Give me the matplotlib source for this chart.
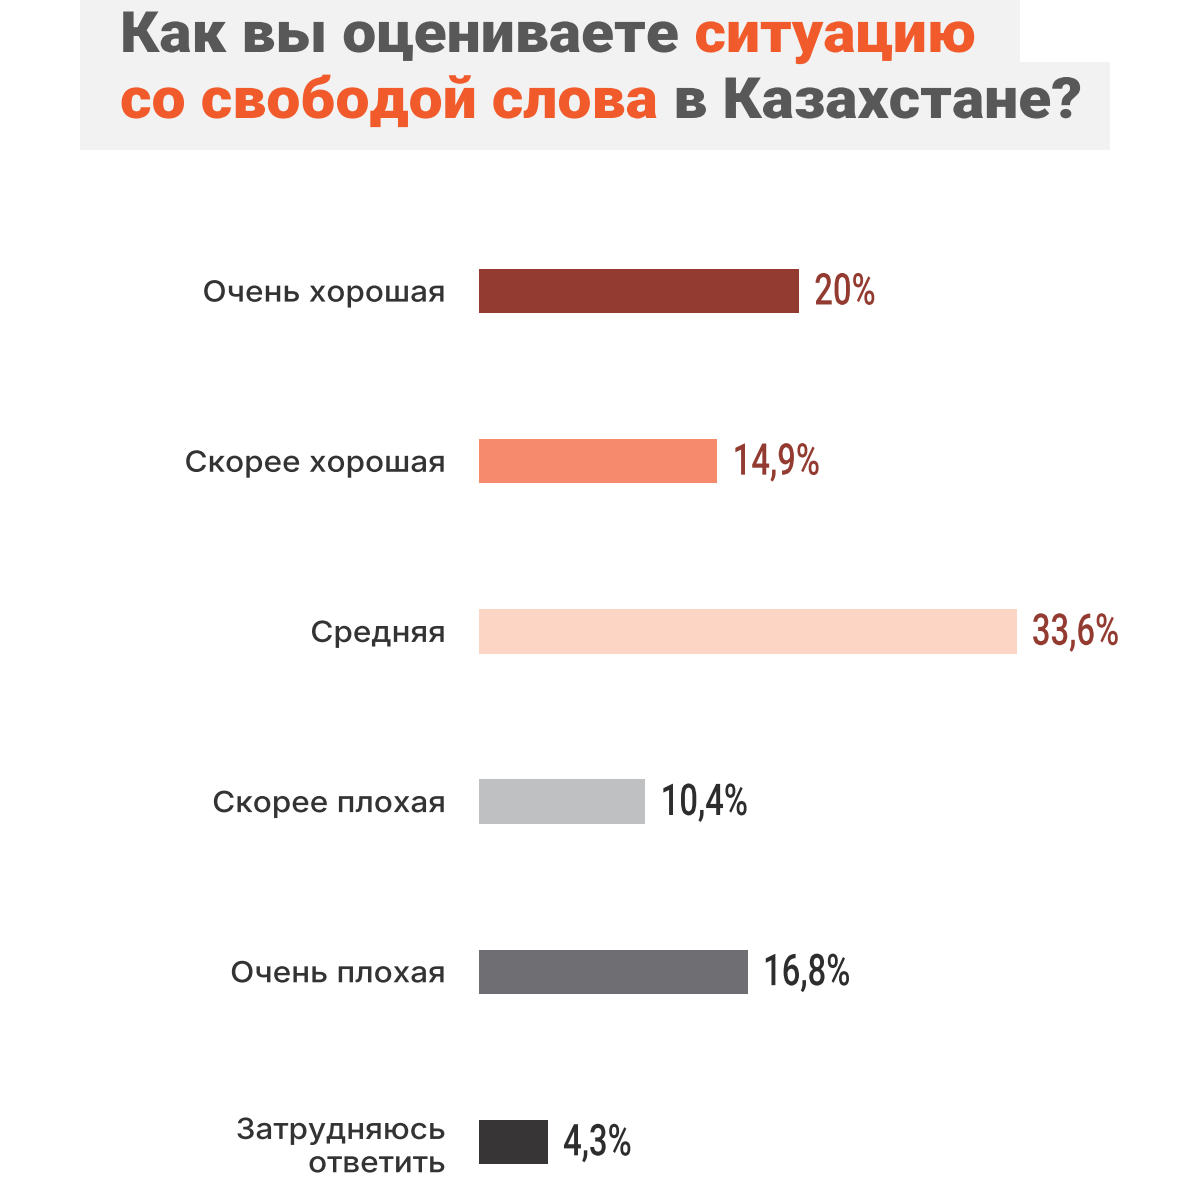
import matplotlib
matplotlib.use("Agg")
import matplotlib.pyplot as plt
from matplotlib.patches import Rectangle
from matplotlib.patheffects import AbstractPathEffect
from matplotlib.transforms import Affine2D

categories = ["Очень хорошая", "Скорее хорошая", "Средняя", "Скорее плохая",
              "Очень плохая", "Затрудняюсь\nответить"]
values = [20.0, 14.9, 33.6, 10.4, 16.8, 4.3]
value_labels = ["20%", "14,9%", "33,6%", "10,4%", "16,8%", "4,3%"]
bar_colors = ["#933b31", "#f58a6c", "#fdd5c4", "#bfc0c2", "#6f6f73", "#373536"]
label_colors = ["#933b31", "#933b31", "#933b31", "#2d2d2d", "#2d2d2d", "#2d2d2d"]
title_line1 = [("Как вы оцениваете ", "#585858"), ("ситуацию", "#f15a2b")]
title_line2 = [("со свободой слова", "#f15a2b"), (" в Казахстане?", "#585858")]


class Stretch(AbstractPathEffect):
    """Scale glyph outlines horizontally about the text's left or right edge."""
    def __init__(self, fx, anchor="left"):
        super().__init__()
        self.fx = fx
        self.anchor = anchor

    def draw_path(self, renderer, gc, tpath, affine, rgbFace=None):
        x0 = 0.0
        if self.anchor == "right":
            x0 = tpath.get_extents().x1
        t = Affine2D().translate(-x0, 0).scale(self.fx, 1).translate(x0, 0)
        renderer.draw_path(gc, tpath, t + affine, rgbFace)


W = H = 1200
fig = plt.figure(figsize=(12, 12), dpi=100)
fig.patch.set_facecolor("white")

def px(x, y, w, h):
    return (x / W, 1 - (y + h) / H, w / W, h / H)
for (x, y, w, h) in [(80, 0, 940, 150), (80, 62, 1030, 88)]:
    bx, by, bw, bh = px(x, y, w, h)
    fig.patches.append(Rectangle((bx, by), bw, bh, transform=fig.transFigure,
                                 facecolor="#f1f2f1", edgecolor="none", zorder=0))

renderer = fig.canvas.get_renderer()
TFX = 1.065
def draw_line(parts, x0, ybase):
    x = x0
    for txt, col in parts:
        t = fig.text(x / W, 1 - ybase / H, txt, color=col, fontsize=41,
                     fontfamily="Roboto", fontweight="black", va="baseline", ha="left",
                     path_effects=[Stretch(TFX)])
        bb = t.get_window_extent(renderer=renderer)
        x += bb.width * TFX
draw_line(title_line1, 120, 52)
draw_line(title_line2, 120, 118)

# axes: 1% = 16 px, bar left at x=479
top_px, bot_px = 291 - 0.5 * 170, 1142 + 0.3 * 170
ax = fig.add_axes([479 / W, 1 - bot_px / H, 640 / W, (bot_px - top_px) / H])
ax.set_xlim(0, 40)
ax.set_ylim(5.3, -0.5)
ypos = list(range(len(categories)))
ax.barh(ypos, values, height=0.26, color=bar_colors, edgecolor="none")
for y, v, lab, c in zip(ypos, values, value_labels, label_colors):
    ax.annotate(lab, (v, y), xytext=(11, -1), textcoords="offset points",
                ha="left", va="center", fontsize=31.5, color=c,
                fontfamily="Roboto", fontweight="medium",
                path_effects=[Stretch(0.75)])
ax.set_yticks(ypos)
ax.set_yticklabels(categories, fontsize=21, color="#333333",
                   fontfamily="Inter", fontweight="medium",
                   multialignment="right", linespacing=1.3)
ax.tick_params(axis="y", length=0, pad=24)
for lbl in ax.get_yticklabels():
    lbl.set_path_effects([Stretch(1.08, anchor="right")])
ax.get_yticklabels()[-1].set_y(ypos[-1] + 0.03)
ax.set_xticks([])
for s in ax.spines.values():
    s.set_visible(False)
ax.patch.set_alpha(0)

fig.savefig("out.png", dpi=100, facecolor="white")
